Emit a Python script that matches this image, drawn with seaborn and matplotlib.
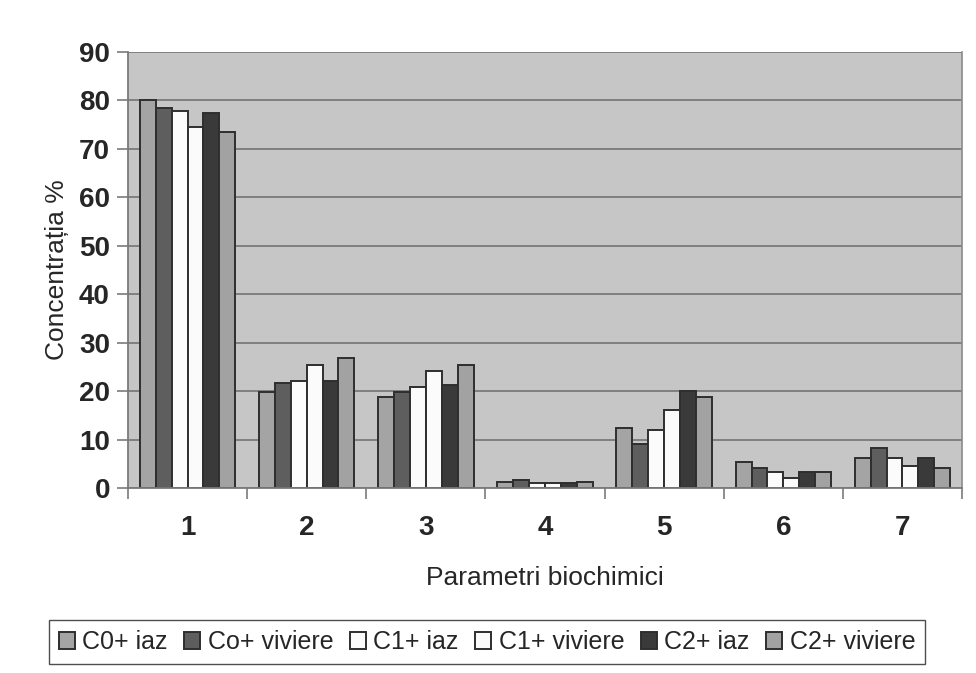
import numpy as np
import pandas as pd
import seaborn as sns
import matplotlib.pyplot as plt
from matplotlib.ticker import FixedLocator

# Data
parametri = ["1", "2", "3", "4", "5", "6", "7"]
serii = ["C0+ iaz", "Co+ viviere", "C1+ iaz", "C1+ viviere", "C2+ iaz", "C2+ viviere"]

c0_iaz = [80.0, 19.8, 18.7, 1.2, 12.4, 5.3, 6.1]
co_viviere = [78.4, 21.6, 19.9, 1.6, 9.0, 4.2, 8.3]
c1_iaz = [77.9, 22.0, 20.9, 1.0, 12.0, 3.2, 6.1]
c1_viviere = [74.5, 25.4, 24.2, 1.0, 16.2, 2.1, 4.5]
c2_iaz = [77.5, 22.0, 21.3, 1.0, 20.1, 3.2, 6.1]
c2_viviere = [73.4, 26.9, 25.4, 1.2, 18.7, 3.2, 4.1]

colors = ["#a4a4a4", "#5e5e5e", "#fbfbfb", "#fbfbfb", "#3a3a3a", "#a2a2a2"]

df = pd.DataFrame({
    "Parametru": parametri * 6,
    "Serie": np.repeat(serii, len(parametri)),
    "Valoare": c0_iaz + co_viviere + c1_iaz + c1_viviere + c2_iaz + c2_viviere,
})

sns.set_style("white")
plt.rcParams["font.family"] = ["Liberation Sans", "DejaVu Sans"]

fig = plt.figure(figsize=(9.76, 6.73), dpi=100)
ax = fig.add_axes([0.1311, 0.2749, 0.8546, 0.6478])
ax.set_facecolor("#c6c6c6")

sns.barplot(data=df, x="Parametru", y="Valoare", hue="Serie", order=parametri,
            hue_order=serii, palette=colors, width=0.8, gap=0,
            edgecolor="#2e2e2e", linewidth=1.4, ax=ax)

ax.set_ylim(0, 90)
ax.set_yticks(range(0, 91, 10))
ax.set_xlim(-0.5, 6.5)
ax.yaxis.grid(True, color="#7a7a7a", linewidth=1.3)
ax.set_axisbelow(True)

ax.spines["top"].set_visible(False)
ax.spines["right"].set_visible(True)
ax.spines["right"].set_color("#8a8a8a")
ax.spines["right"].set_linewidth(1.2)
ax.spines["left"].set_color("#7a7a7a")
ax.spines["bottom"].set_color("#7a7a7a")
ax.spines["left"].set_linewidth(1.3)
ax.spines["bottom"].set_linewidth(1.3)

ax.tick_params(axis="y", left=True, length=8, width=1.2, color="#7a7a7a",
               labelsize=20, pad=5)
ax.tick_params(axis="x", which="major", bottom=False, labelsize=20, pad=16)
ax.xaxis.set_minor_locator(FixedLocator(np.arange(-0.5, 7, 1)))
ax.tick_params(axis="x", which="minor", bottom=True, length=8, width=1.2,
               color="#7a7a7a")
for lab in ax.get_xticklabels() + ax.get_yticklabels():
    lab.set_fontweight("bold")

ax.set_xlabel("Parametri biochimici", fontsize=19, labelpad=18)
ax.set_ylabel("Concentrația %", fontsize=19, labelpad=7)

ax.legend_.remove()
handles, labels = ax.get_legend_handles_labels()
leg = fig.legend(handles, labels, loc="center", bbox_to_anchor=(0.499, 0.0455),
                 ncol=6, fontsize=18, frameon=True, fancybox=False,
                 edgecolor="#222222", handlelength=0.65, handleheight=0.65,
                 handletextpad=0.3, columnspacing=0.65, borderpad=0.4)
leg.get_frame().set_linewidth(1.0)

fig.savefig("out.png", dpi=100)
